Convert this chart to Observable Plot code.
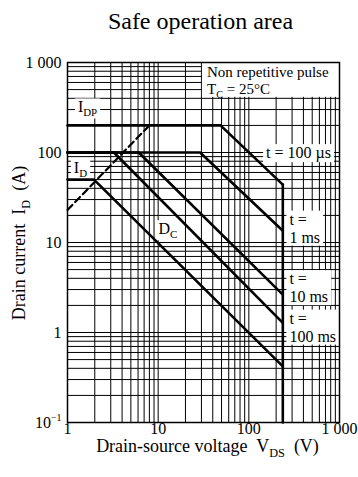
<!DOCTYPE html>
<html>
<head>
<meta charset="utf-8">
<script src="https://cdn.jsdelivr.net/npm/d3@7"></script>
<script src="https://cdn.jsdelivr.net/npm/@observablehq/plot@0.6"></script>
<style>
  body { margin: 0; background: #fff; font-family: "Liberation Serif", "DejaVu Serif", serif; color: #000; }
  #title { position: relative; width: 358px; height: 40px; }
  #title span { position: absolute; left: 0; width: 401px; top: 9px; text-align: center; font-size: 24px; line-height: 24px; }
  #chart svg text { white-space: pre; }
  #chart svg rect.notebox { fill: #fff; stroke: none; }
</style>
</head>
<body>
<div id="title"><span>Safe operation area</span></div>
<div id="chart"></div>
<script>
// ---------- data ----------
const chartTitle = "Safe operation area";
const xTitle = "Drain-source voltage  V_{DS}  (V)";
const yTitle = "Drain current  I_{D}  (A)";

const xTicks = [1, 10, 100, 1000];
const xTickLabels = ["1", "10", "100", "1 000"];
const yTicks = [0.1, 1, 10, 100, 1000];
const yTickLabels = ["10^{-1}", "1", "10", "100", "1 000"];

// log grid: 1..9 in each decade
const gridMultipliers = [1, 2, 3, 4, 5, 6, 7, 8, 9];
const xDecades = [1, 10, 100, 1000];
const yDecades = [0.1, 1, 10, 100, 1000];

// SOA boundaries: [V_DS (V), I_D (A)]
const curveNames = ["t = 100 µs", "t = 1 ms", "t = 10 ms", "t = 100 ms", "DC", "V_DSS"];
const curve100us = [[1, 200], [48.7, 200], [237, 44]];
const curve1ms   = [[1, 100], [29, 100], [237, 13.5]];
const curve10ms  = [[1, 100], [6.1, 100], [237, 2.64]];
const curve100ms = [[1, 100], [3.25, 100], [237, 1.28]];
const curveDC    = [[1, 50], [1.96, 50], [237, 0.42]];
const curveVdss  = [[237, 44], [237, 0.1]];
// R_DS(on) limit (dashed)
const curveRdsOn = [[1, 23], [8, 200]];

// annotation texts and anchor points (data units)
const noteTexts = [
  ["I_{DP}"],
  ["I_{D}"],
  ["D_{C}"],
  ["t = 100 µs"],
  ["t =", "1 ms"],
  ["t =", "10 ms"],
  ["t =", "100 ms"]
];
const noteV = [1.32, 1.19, 10.2, 157, 284, 284, 284];
const noteI = [275, 59, 12.2, 85.5, 15.6, 3.4, 1.24];

const conditionText = ["Non repetitive pulse", "T_{C} = 25°C"];
const conditionV = 35, conditionI = 680;
const conditionBoxV = [30, 1000], conditionBoxI = [400, 1000];

// ---------- build tables ----------
const gridV = xDecades.flatMap(d => gridMultipliers.map(m => d * m)).filter(v => v <= 1000);
const gridI = yDecades.flatMap(d => gridMultipliers.map(m => d * m)).filter(v => v <= 1000);

const solidCurves = [curve100us, curve1ms, curve10ms, curve100ms, curveDC, curveVdss];
const solidRows = solidCurves.flatMap((c, k) => c.map(([V, I]) => ({V, I, series: curveNames[k]})));
const dashRows = curveRdsOn.map(([V, I]) => ({V, I}));

const FONT = '"Liberation Serif", "DejaVu Serif", serif';

const plot = Plot.plot({
  width: 358,
  height: 437,
  marginTop: 22,
  marginBottom: 55,
  marginLeft: 67,
  marginRight: 19,
  style: {fontFamily: FONT, fontSize: "16px", color: "#000", background: "#fff", overflow: "visible"},
  x: {type: "log", domain: [1, 1000], ticks: xTicks, tickFormat: d => xTickLabels[xTicks.indexOf(d)], tickSize: 0, tickPadding: 0, label: null},
  y: {type: "log", domain: [0.1, 1000], ticks: yTicks, tickFormat: d => yTickLabels[yTicks.indexOf(d)], tickSize: 0, tickPadding: 6, label: null},
  marks: [
    Plot.ruleX(gridV, {stroke: "#000", strokeWidth: 1}),
    Plot.ruleY(gridI, {stroke: "#000", strokeWidth: 1}),
    Plot.line(dashRows, {x: "V", y: "I", stroke: "#000", strokeWidth: 2.2, strokeDasharray: "7,4"}),
    Plot.line(solidRows, {x: "V", y: "I", z: "series", stroke: "#000", strokeWidth: 2.6, strokeLinejoin: "miter"}),
    Plot.frame({stroke: "#000", strokeWidth: 1.5})
  ]
});
document.getElementById("chart").appendChild(plot);

// ---------- rich text helper ----------
function rich(textSel, str, size) {
  const parts = str.split(/(_\{[^}]*\}|\^\{[^}]*\})/).filter(s => s.length);
  let shift = 0;
  parts.forEach(p => {
    let m;
    if ((m = p.match(/^_\{(.*)\}$/))) {
      const d = size * 0.25;
      textSel.append("tspan").attr("font-size", size * 0.68).attr("dy", d - shift).text(m[1]);
      shift = d;
    } else if ((m = p.match(/^\^\{(.*)\}$/))) {
      const d = -size * 0.4;
      textSel.append("tspan").attr("font-size", size * 0.62).attr("dy", d - shift).text(m[1].replace("-", "\u2212"));
      shift = d;
    } else {
      const ts = textSel.append("tspan").text(p);
      if (shift) { ts.attr("dy", -shift); shift = 0; }
    }
  });
}

const svg = d3.select(plot);
const sx = plot.scale("x"), sy = plot.scale("y");

// tick label post-processing (superscript on 10^-1)
svg.selectAll("text").each(function() {
  const t = d3.select(this);
  if (t.text() === "10^{-1}") { t.text(""); rich(t, "10^{-1}", 16); }
});

// annotation layer
const notes = svg.append("g").attr("font-family", FONT).attr("fill", "#000").attr("text-anchor", "start");

// condition box (grid-aligned)
{
  const g = notes.append("g");
  const x1 = sx.apply(conditionBoxV[0]) + 1, x2 = sx.apply(conditionBoxV[1]);
  const y1 = sy.apply(conditionBoxI[1]), y2 = sy.apply(conditionBoxI[0]) - 1;
  g.append("rect").attr("class", "notebox").attr("x", x1).attr("y", y1).attr("width", x2 - x1).attr("height", y2 - y1).style("fill", "#fff");
  conditionText.forEach((s, i) => {
    const t = g.append("text").attr("text-anchor", "start").attr("x", sx.apply(conditionV)).attr("y", sy.apply(conditionI) + i * 17).attr("font-size", 15);
    rich(t, s, 15);
  });
}

noteTexts.forEach((lines, k) => {
  const g = notes.append("g");
  const x = sx.apply(noteV[k]), y = sy.apply(noteI[k]);
  lines.forEach((s, i) => {
    const t = g.append("text").attr("text-anchor", "start").attr("x", x).attr("y", y + i * 18).attr("font-size", 16);
    rich(t, s, 16);
  });
  const b = g.node().getBBox();
  g.insert("rect", ":first-child").attr("class", "notebox")
    .attr("x", b.x - 3).attr("y", b.y).attr("width", b.width + 6).attr("height", b.height)
    .style("fill", "#fff");
});

// axis titles
const xt = svg.append("text").attr("x", 207.5).attr("y", 412).attr("text-anchor", "middle")
  .attr("font-family", FONT).attr("font-size", 18).attr("fill", "#000");
rich(xt, xTitle, 18);
const yt = svg.append("text").attr("transform", "translate(25,203) rotate(-90)").attr("text-anchor", "middle")
  .attr("font-family", FONT).attr("font-size", 18).attr("fill", "#000");
rich(yt, yTitle, 18);

// keep curves and frame above the label boxes
svg.selectAll('g[aria-label="line"]').raise();
svg.selectAll('[aria-label="frame"]').raise();
</script>
</body>
</html>
